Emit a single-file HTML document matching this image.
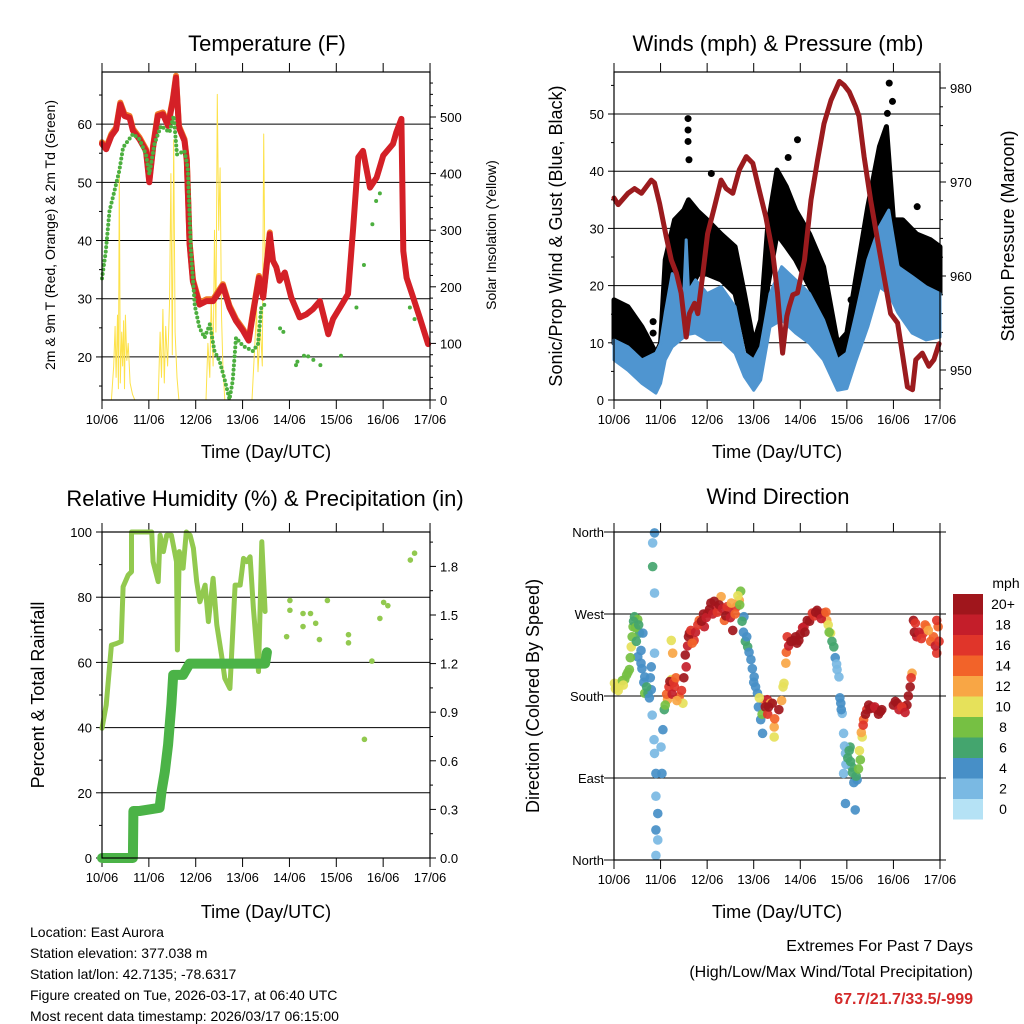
<!DOCTYPE html>
<html><head><meta charset="utf-8"><style>
html,body{margin:0;padding:0;background:#fff}
svg{display:block;font-family:"Liberation Sans",Arial,sans-serif}
</style></head><body>
<svg id="root" width="1024" height="1024" viewBox="0 0 1024 1024" xmlns="http://www.w3.org/2000/svg">
<g font-size="22" text-anchor="middle" fill="#000">
<text x="267" y="51">Temperature (F)</text>
<text x="778" y="51">Winds (mph) &amp; Pressure (mb)</text>
<text x="265" y="506">Relative Humidity (%) &amp; Precipitation (in)</text>
<text x="778" y="504">Wind Direction</text>
</g>
<g font-size="18" text-anchor="middle">
<text x="266" y="458">Time (Day/UTC)</text>
<text x="777" y="458">Time (Day/UTC)</text>
<text x="266" y="918">Time (Day/UTC)</text>
<text x="777" y="918">Time (Day/UTC)</text>
<text transform="translate(55,235) rotate(-90)" font-size="14">2m &amp; 9m T (Red, Orange) &amp; 2m Td (Green)</text>
<text transform="translate(496,235) rotate(-90)" font-size="14">Solar Insolation (Yellow)</text>
<text transform="translate(562,236) rotate(-90)">Sonic/Prop Wind &amp; Gust (Blue, Black)</text>
<text transform="translate(1014,236) rotate(-90)">Station Pressure (Maroon)</text>
<text transform="translate(44,695) rotate(-90)">Percent &amp; Total Rainfall</text>
<text transform="translate(539,696) rotate(-90)">Direction (Colored By Speed)</text>
</g>
<g font-size="14">
<text x="30" y="937">Location: East Aurora</text>
<text x="30" y="958">Station elevation: 377.038 m</text>
<text x="30" y="979">Station lat/lon: 42.7135; -78.6317</text>
<text x="30" y="1000">Figure created on Tue, 2026-03-17, at 06:40 UTC</text>
<text x="30" y="1021">Most recent data timestamp: 2026/03/17 06:15:00</text>
</g>
<g font-size="16" text-anchor="end">
<text x="973" y="951">Extremes For Past 7 Days</text>
<text x="973" y="977">(High/Low/Max Wind/Total Precipitation)</text>
<text x="973" y="1004" font-weight="bold" fill="#d42a2a">67.7/21.7/33.5/-999</text>
</g>
</svg>
<script>
// ---------- DATA ----------
const dayLabels = ["10/06","11/06","12/06","13/06","14/06","15/06","16/06","17/06"];
const tempT = [0,0.09,0.2,0.3,0.39,0.48,0.59,0.66,0.8,0.94,1.01,1.09,1.19,1.3,1.41,1.51,1.58,1.64,1.76,1.81,1.87,1.94,2.08,2.23,2.37,2.47,2.58,2.72,2.86,3.01,3.13,3.22,3.35,3.44,3.51,3.58,3.65,3.72,3.79,3.9,4.04,4.22,4.36,4.5,4.65,4.83,4.93,5.08,5.25,5.36,5.47,5.57,5.72,5.86,6.0,6.21,6.28,6.39,6.43,6.5,6.64,6.78,6.96];
const tempV = [56.6,55.7,58,59.1,63.4,61.4,61.1,58.9,57.4,55.4,50,56,61.4,61.7,59.7,64,68,59.4,57.1,53.7,39.4,33,29,29.6,29.6,30.8,32.2,28.5,26.2,24.5,22.8,27.3,33.6,30.2,35.4,41.1,36.5,35.4,33.1,34.5,30.2,26.8,27.3,28.2,29.6,23.9,26.5,28.5,30.8,42.2,54.3,55.4,49.1,50.8,54.6,56.6,58.6,60.9,38.2,33.6,30.2,26.8,22.2];
const dewT = [0,0.08,0.16,0.25,0.37,0.45,0.66,0.8,0.94,1.01,1.12,1.26,1.44,1.53,1.6,1.76,1.83,1.9,1.98,2.08,2.19,2.3,2.4,2.51,2.62,2.72,2.79,2.86,3.01,3.22,3.33,3.4,3.47];
const dewV = [33.5,38,45.1,48,52,56,58.3,57.4,54.8,51.4,56.6,59.7,58.6,61.4,54.8,55.4,52.5,38,28.8,25,23.3,25.6,21,19.3,16,12.7,15.9,23.3,21.9,21,22.2,28.5,29];
const dewDotT = [3.8,3.87,4.14,4.17,4.31,4.4,4.51,4.66,5.1,5.43,5.59,5.77,5.85,5.93,6.57,6.67];
const dewDotV = [24.9,24.3,18.6,19.2,20.2,20.1,19.5,18.6,20.2,28.5,35.8,42.8,46.8,48.1,28.5,26.5];
const solarT = [0.2,0.25,0.28,0.3,0.33,0.35,0.37,0.39,0.42,0.44,0.46,0.48,0.5,0.53,0.56,0.6,0.65,0.7,1.2,1.24,1.27,1.3,1.33,1.36,1.4,1.44,1.47,1.5,1.53,1.56,1.6,1.64,2.22,2.26,2.3,2.33,2.37,2.4,2.43,2.46,2.49,2.52,2.55,2.58,2.62,3.2,3.25,3.3,3.33,3.38,3.42,3.45,3.48];
const solarV = [0,60,130,40,150,20,410,30,120,60,140,20,150,70,100,30,10,0,0,120,40,160,30,130,60,170,400,80,460,120,40,0,0,100,40,180,60,300,120,540,300,410,150,60,0,0,80,160,50,130,60,470,200];
const presT = [0,0.09,0.3,0.44,0.59,0.8,0.87,0.98,1.12,1.23,1.34,1.44,1.55,1.62,1.73,1.8,1.91,2.01,2.16,2.3,2.41,2.55,2.69,2.84,2.98,3.12,3.26,3.41,3.51,3.62,3.71,3.76,3.84,3.94,4.09,4.23,4.37,4.51,4.66,4.84,4.94,5.05,5.19,5.26,5.37,5.51,5.66,5.8,5.94,6.09,6.19,6.3,6.41,6.48,6.62,6.76,6.87,6.98];
const presV = [968.3,967.6,968.8,969.3,968.8,970.2,969.9,967.7,964.2,961.7,960.3,958.2,953.5,956,957.1,956,960.3,964.5,967.4,970.2,969.3,968.8,971.3,972.7,972,969.1,966.3,962.4,958.2,951.8,955.7,956.7,958,958.2,961.7,968.1,972.3,976.2,978.7,980.7,980.3,979.6,978,977,972.7,968.1,963.8,959.9,956,955,951.8,948.2,947.9,951.1,951.8,950.4,951.1,952.8];
const windT = [0,0.3,0.6,0.9,1.0,1.1,1.25,1.5,1.55,1.6,1.75,2.0,2.3,2.6,2.8,3.0,3.15,3.35,3.6,3.9,4.2,4.5,4.8,5.0,5.2,5.45,5.7,5.9,6.1,6.4,6.7,7.0];
const windLo = [7,5.2,2.9,1.2,2.9,7,9.3,11,11,11.5,11.7,10.5,10.5,8.2,4.1,1.7,3.5,12.8,14,11.7,9.9,7,1.7,2,7,12.8,19.8,18.6,15.2,11.7,10.5,11];
const windHi = [10.5,9.3,7,8.2,9.9,15.2,22.1,18.6,28,19,21,18.6,19.8,16.3,8.2,7,9.3,18.6,23.3,21,18.6,14,7,8.2,15.2,24.5,30.3,33.2,23.3,21.6,19.8,18.6];
const gustT = [0,0.3,0.6,0.9,1.0,1.1,1.3,1.5,1.6,1.8,2.0,2.3,2.6,2.8,3.0,3.15,3.3,3.5,3.7,3.9,4.2,4.5,4.8,5.0,5.2,5.45,5.7,5.85,6.0,6.2,6.5,6.8,7.0];
const gustLo = [9.9,8.7,7,3.5,4.7,11.7,18.6,19.8,18.6,22,22,21,18.6,11.7,4.1,7,19.8,29,26.8,24.5,19.8,15.2,4.1,5.2,12.8,22,30.3,35,26.8,23.3,21,18.6,18.6];
const gustHi = [17.5,16.3,12.8,8.2,9.9,24.5,31.5,33.2,35,33,31.5,29,26.8,18.6,9.9,14,30.3,40.2,37.3,33.2,29,23.3,9.9,11.7,21.6,33.8,44.3,47.8,31.5,31.5,29,28,26.8];
const gustDotT = [1.59,1.59,1.59,1.61,2.09,3.94,3.74,5.91,5.98,5.87,6.51,5.09,0.84,0.84];
const gustDotV = [49.2,47.2,45.2,42,39.6,45.5,42.4,55.4,52.2,50.1,33.8,17.5,13.7,11.7];
const rhT = [0,0.09,0.2,0.31,0.41,0.45,0.56,0.63,0.63,1.06,1.09,1.2,1.24,1.31,1.38,1.48,1.59,1.61,1.65,1.73,1.8,1.88,1.95,2.02,2.09,2.2,2.27,2.37,2.45,2.55,2.62,2.73,2.84,2.95,3.02,3.09,3.16,3.23,3.34,3.41,3.48];
const rhV = [39.8,46.9,65.3,65.8,66.4,83.2,86.8,87.8,100,100,90.9,84.8,99,94,99,99,90.9,63.8,94,88.9,100,99,95,84.8,78.6,83.7,72.5,85.8,71.5,62.3,55.1,52,83.7,83.7,91.9,90.9,92.4,76.6,57.2,97,75.6];
const rhDotT = [3.94,4.01,4.01,4.29,4.29,4.45,4.56,4.64,4.81,5.26,5.26,5.6,5.76,5.93,6.01,6.1,6.58,6.67];
const rhDotV = [67.9,79,76,75,71,75,72,67,79,68.5,66,36.4,60.4,73.5,78.4,77.4,91.4,93.5];
const rainT = [0,0.66,0.67,0.8,1.23,1.27,1.34,1.41,1.48,1.52,1.73,1.87,3.48,3.52];
const rainV = [0,0,0.29,0.29,0.31,0.41,0.53,0.7,0.95,1.13,1.13,1.2,1.2,1.27];
const dirT = [0.01,0.12,0.23,0.33,0.37,0.41,0.44,0.51,0.55,0.62,0.51,0.58,0.66,0.73,0.66,0.8,0.8,0.87,0.83,0.83,0.87,0.87,0.82,0.86,0.87,0.9,0.9,0.94,0.9,0.94,0.9,1.03,1.01,1.05,1.08,1.15,1.23,1.3,1.23,1.26,1.4,1.48,1.55,1.62,1.72,1.83,1.94,2.01,2.08,2.19,2.3,2.37,2.47,2.55,2.63,2.69,2.72,2.79,2.87,2.94,3.01,3.08,3.15,3.19,3.22,3.29,3.36,3.44,3.44,3.54,3.65,3.69,3.72,3.86,3.97,4.08,4.15,4.26,4.36,4.5,4.57,4.65,4.72,4.79,4.83,4.87,4.9,4.93,4.97,4.93,4.97,5.07,5.11,5.22,5.18,5.29,5.33,5.36,5.43,5.54,5.64,5.72,6.04,6.22,6.29,6.36,6.4,6.43,6.5,6.64,6.71,6.86,6.93,6.96,6.93,
0.03,0.06,0.09,0.15,0.18,0.2,0.27,0.3,0.35,0.39,0.42,0.46,0.48,0.53,0.58,0.6,0.64,0.7,0.76,0.78,
1.1,1.13,1.18,1.2,1.25,1.28,1.33,1.35,1.45,1.5,1.53,1.58,1.6,1.65,1.68,1.75,1.8,1.88,1.92,1.98,2.05,2.12,2.15,2.22,2.26,2.33,2.4,2.43,2.5,2.52,2.6,2.66,2.7,2.75,2.78,2.82,2.85,2.9,2.97,3.0,3.04,3.1,3.12,3.18,3.25,3.3,3.32,3.4,3.45,3.6,3.63,3.7,3.75,3.8,3.9,3.93,4.0,4.05,4.1,4.2,4.3,4.33,4.4,4.45,4.55,4.6,4.62,4.68,4.75,4.78,4.85,4.88,4.95,4.98,5.02,5.05,5.08,5.12,5.15,5.2,5.25,5.27,5.31,5.35,5.4,5.47,5.5,5.6,5.68,5.75,6.0,6.08,6.12,6.18,6.25,6.32,6.38,6.45,6.47,6.55,6.6,6.68,6.75,6.8,6.9,6.98];
const dirV = [194,192,198,209,234,256,267,264,249,249,223,216,183,183,201,212,187,359,348,322,293,227,159,132,117,95,70,51,33,22,5,95,124,143,165,176,198,190,241,227,179,172,212,249,241,263,256,271,282,278,289,263,274,252,278,285,295,267,234,220,201,183,154,139,172,176,172,146,135,165,194,216,245,241,241,256,263,271,274,271,263,249,234,209,201,172,161,139,117,95,62,124,102,88,55,110,135,154,165,168,165,163,174,168,170,190,205,263,245,249,256,245,227,256,263,
188,190,186,195,197,192,203,206,222,245,262,255,240,258,230,210,195,190,178,200,
170,182,190,196,182,195,200,175,186,200,225,235,245,252,238,250,258,262,270,266,275,270,284,272,280,276,268,278,266,282,270,290,280,262,250,240,245,228,210,195,190,168,178,160,168,160,168,172,155,175,190,228,235,240,245,238,248,255,250,262,268,272,270,265,272,258,250,240,222,215,178,165,125,105,112,120,108,96,85,92,100,120,140,148,160,170,166,168,160,165,170,172,165,168,162,180,200,250,260,250,243,258,252,240,235,240];
const dirS = [9,10,8,8,9,7,6,7,5,4,4,3,7,6,4,4,4,4,2,5,1,2,2,2,2,4,2,4,3,2,2,4,2,4,6,12,9,16,10,12,14,10,18,20,16,14,18,16,20,18,12,14,18,20,16,12,8,4,6,4,4,4,4,4,14,18,12,12,10,20,10,12,16,20,20,18,20,16,20,18,12,10,6,2,2,4,2,2,2,2,4,6,6,4,4,8,10,14,16,20,18,20,20,18,20,20,12,20,18,16,12,14,16,14,16,
10,10,10,9,8,9,8,8,8,7,6,8,6,5,4,4,4,6,4,4,
8,14,16,20,18,16,14,12,16,20,20,18,20,16,14,18,16,20,20,18,20,18,20,16,20,18,20,16,18,12,14,10,8,6,4,6,4,4,4,4,4,4,10,8,20,16,20,20,14,12,10,14,18,20,20,20,20,18,20,20,16,20,20,18,14,10,8,6,4,2,4,4,2,2,6,6,6,6,4,6,8,10,12,16,20,20,20,18,20,20,20,20,18,16,18,20,16,20,16,18,16,14,12,14,18,16];
const speedBins = ["0","2","4","6","8","10","12","14","16","18","20+"];
const speedColors = ["#b5e2f5","#7ab9e3","#478fc7","#44a56e","#76c043","#e6e15a","#f8a645","#f26329","#e0352a","#c41e2a","#a0161c"];

// ---------- SCALES ----------
const NS = "http://www.w3.org/2000/svg";
const root = document.getElementById('root');
function mk(tag, attrs, parent){ const e=document.createElementNS(NS,tag); for(const k in attrs) e.setAttribute(k,attrs[k]); (parent||root).appendChild(e); return e; }
const xL = d => 102 + d*46.86;
const xR = d => 614 + d*46.57;
const yT = v => 400 - (v-12.6)*5.82;
const yS = s => 400 - s*0.566;
const yW = w => 400 - w*5.72;
const yP = p => 370 - (p-950)*9.4;
const yRH = h => 858 - h*3.26;
const yRain = r => 858 - r*162;
const yD = d => 860 - d*328/360;
const pts = (T,V,fx,fy) => T.map((t,i)=>fx(t).toFixed(1)+","+fy(V[i]).toFixed(1)).join(" ");

function panel(name,x0,x1,y0,y1,fx){
  const g = mk('g',{});
  
  
  for(let i=0;i<dayLabels.length;i++){
    const x=fx(i);
    mk('line',{x1:x,x2:x,y1:y0-9,y2:y0,stroke:'#000','stroke-width':1},g);
    mk('line',{x1:x,x2:x,y1:y1,y2:y1+9,stroke:'#000','stroke-width':1},g);
    const t=mk('text',{x:x,y:y1+24,'font-size':13,'text-anchor':'middle'},g);
    t.textContent=dayLabels[i];
    
    
  }
  return g;
}
function hgrid(g,x0,x1,ys){ ys.forEach(y=>mk('line',{x1:x0,x2:x1,y1:y,y2:y,stroke:'#000','stroke-width':1},g)); }
function yTicks(g,x,vals,fy,side,labels,len){
  vals.forEach((v,i)=>{
    const y=fy(v);
    mk('line',{x1:x,x2:x+(side<0?-len:len),y1:y,y2:y,stroke:'#000','stroke-width':1},g);
    if(labels && labels[i]!==null){
      const t=mk('text',{x:x+(side<0?-10:10),y:y+5,'font-size':13,'text-anchor':side<0?'end':'start'},g);
      t.textContent=labels[i];
      
      
    }
  });
}
let g1=panel('temperature',102,430,72,400,xL);
hgrid(g1,102,430,[20,30,40,50,60].map(yT));
yTicks(g1,102,[20,30,40,50,60],yT,-1,["20","30","40","50","60"],6);
yTicks(g1,102,[15,25,35,45,55,65],yT,-1,null,3);
yTicks(g1,430,[0,100,200,300,400,500],yS,1,["0","100","200","300","400","500"],6);
yTicks(g1,430,[20,40,60,80,120,140,160,180,220,240,260,280,320,340,360,380,420,440,460,480,520,540,560],yS,1,null,3);
let g2=panel('winds',614,940,72,400,xR);
hgrid(g2,614,940,[10,20,30,40,50].map(yW));
yTicks(g2,614,[0,10,20,30,40,50],yW,-1,["0","10","20","30","40","50"],6);
yTicks(g2,614,[5,15,25,35,45,55],yW,-1,null,3);
yTicks(g2,940,[950,960,970,980],yP,1,["950","960","970","980"],6);
yTicks(g2,940,[948,952,954,956,958,962,964,966,968,972,974,976,978],yP,1,null,3);
let g3=panel('humidity',102,430,532,858,xL);
hgrid(g3,102,430,[20,40,60,80].map(yRH));
yTicks(g3,102,[0,20,40,60,80,100],yRH,-1,["0","20","40","60","80","100"],6);
yTicks(g3,102,[10,30,50,70,90],yRH,-1,null,3);
yTicks(g3,430,[0,0.3,0.6,0.9,1.2,1.5,1.8],yRain,1,["0.0","0.3","0.6","0.9","1.2","1.5","1.8"],6);
yTicks(g3,430,[0.15,0.45,0.75,1.05,1.35,1.65,1.95],yRain,1,null,3);
let g4=panel('direction',614,940,532,860,xR);
hgrid(g4,614,940,[90,180,270].map(yD));
yTicks(g4,614,[0,90,180,270,360],yD,-1,["North","East","South","West","North"],10);
yTicks(g4,940,[0,90,180,270,360],yD,1,null,6);

// Panel 1
const solar=mk('polyline',{points:pts(solarT,solarV,xL,yS),fill:'none',stroke:'#fde24a','stroke-width':1,'stroke-linejoin':'round'});


const nT9=tempT.filter(t=>t<3.6).length;
const t9=mk('polyline',{points:pts(tempT.slice(0,nT9),tempV.slice(0,nT9).map(v=>v+0.3),xL,yT),fill:'none',stroke:'#f07a26','stroke-width':6,'stroke-linejoin':'round','stroke-linecap':'round'});


const t2=mk('polyline',{points:pts(tempT,tempV,xL,yT),fill:'none',stroke:'#d42027','stroke-width':6,'stroke-linejoin':'round','stroke-linecap':'round'});


const dew=mk('polyline',{points:pts(dewT,dewV,xL,yT),fill:'none',stroke:'#4caf3f','stroke-width':4,'stroke-dasharray':'0 4.5','stroke-linecap':'round'});


dewDotT.forEach((t,i)=>{
  const c=mk('circle',{cx:xL(t),cy:yT(dewDotV[i]),r:2,fill:'#4caf3f'});
  
  
});
// Panel 2
const gustPoly=gustT.map((t,i)=>xR(t)+","+yW(gustHi[i])).concat(gustT.slice().reverse().map((t,j)=>{const i=gustT.length-1-j;return xR(t)+","+yW(gustLo[i]);})).join(" ");
const gb=mk('polygon',{points:gustPoly,fill:'#000',stroke:'#000','stroke-width':5,'stroke-linejoin':'round'});


gustDotT.forEach((t,i)=>{
  const c=mk('circle',{cx:xR(t),cy:yW(gustDotV[i]),r:3.5,fill:'#000'});
  
  
});
const windPoly=windT.map((t,i)=>xR(t)+","+yW(windHi[i])).concat(windT.slice().reverse().map((t,j)=>{const i=windT.length-1-j;return xR(t)+","+yW(windLo[i]);})).join(" ");
const wb=mk('polygon',{points:windPoly,fill:'#4f95d0',stroke:'#4f95d0','stroke-width':3,'stroke-linejoin':'round'});


const pr=mk('polyline',{points:pts(presT,presV,xR,yP),fill:'none',stroke:'#9b1b1e','stroke-width':5,'stroke-linejoin':'round','stroke-linecap':'round'});


// Panel 3
const rh=mk('polyline',{points:pts(rhT,rhV,xL,yRH),fill:'none',stroke:'#92c94f','stroke-width':5,'stroke-linejoin':'round','stroke-linecap':'round'});


rhDotT.forEach((t,i)=>{
  const c=mk('circle',{cx:xL(t),cy:yRH(rhDotV[i]),r:2.8,fill:'#92c94f'});
  
  
});
const rn=mk('polyline',{points:pts(rainT,rainV,xL,yRain),fill:'none',stroke:'#4bb347','stroke-width':10,'stroke-linejoin':'round','stroke-linecap':'round'});


// Panel 4
dirT.forEach((t,i)=>{
  const bin=Math.min(10,Math.round(dirS[i]/2));
  const c=mk('circle',{cx:xR(t),cy:yD(dirV[i]),r:4.8,fill:speedColors[bin],'fill-opacity':0.92});
  
  
});
const cb=mk('g',{});


const mt=mk('text',{x:1006,y:588,'font-size':14,'text-anchor':'middle'},cb);
mt.textContent='mph';
speedBins.forEach((lab,i)=>{
  const y=594+(10-i)*20.5;
  const r=mk('rect',{x:953,y:y,width:30,height:20.5,fill:speedColors[i]},cb);
  
  
  const t=mk('text',{x:1003,y:y+15,'font-size':14,'text-anchor':'middle'},cb);
  t.textContent=lab;
  
  
});
[[102,72,328,328],[614,72,326,328],[102,532,328,326],[614,532,326,328]].forEach(f=>{
  const r=mk('rect',{x:f[0],y:f[1],width:f[2],height:f[3],fill:'none',stroke:'#000','stroke-width':1.2});
  
  
});
</script>
</body></html>
